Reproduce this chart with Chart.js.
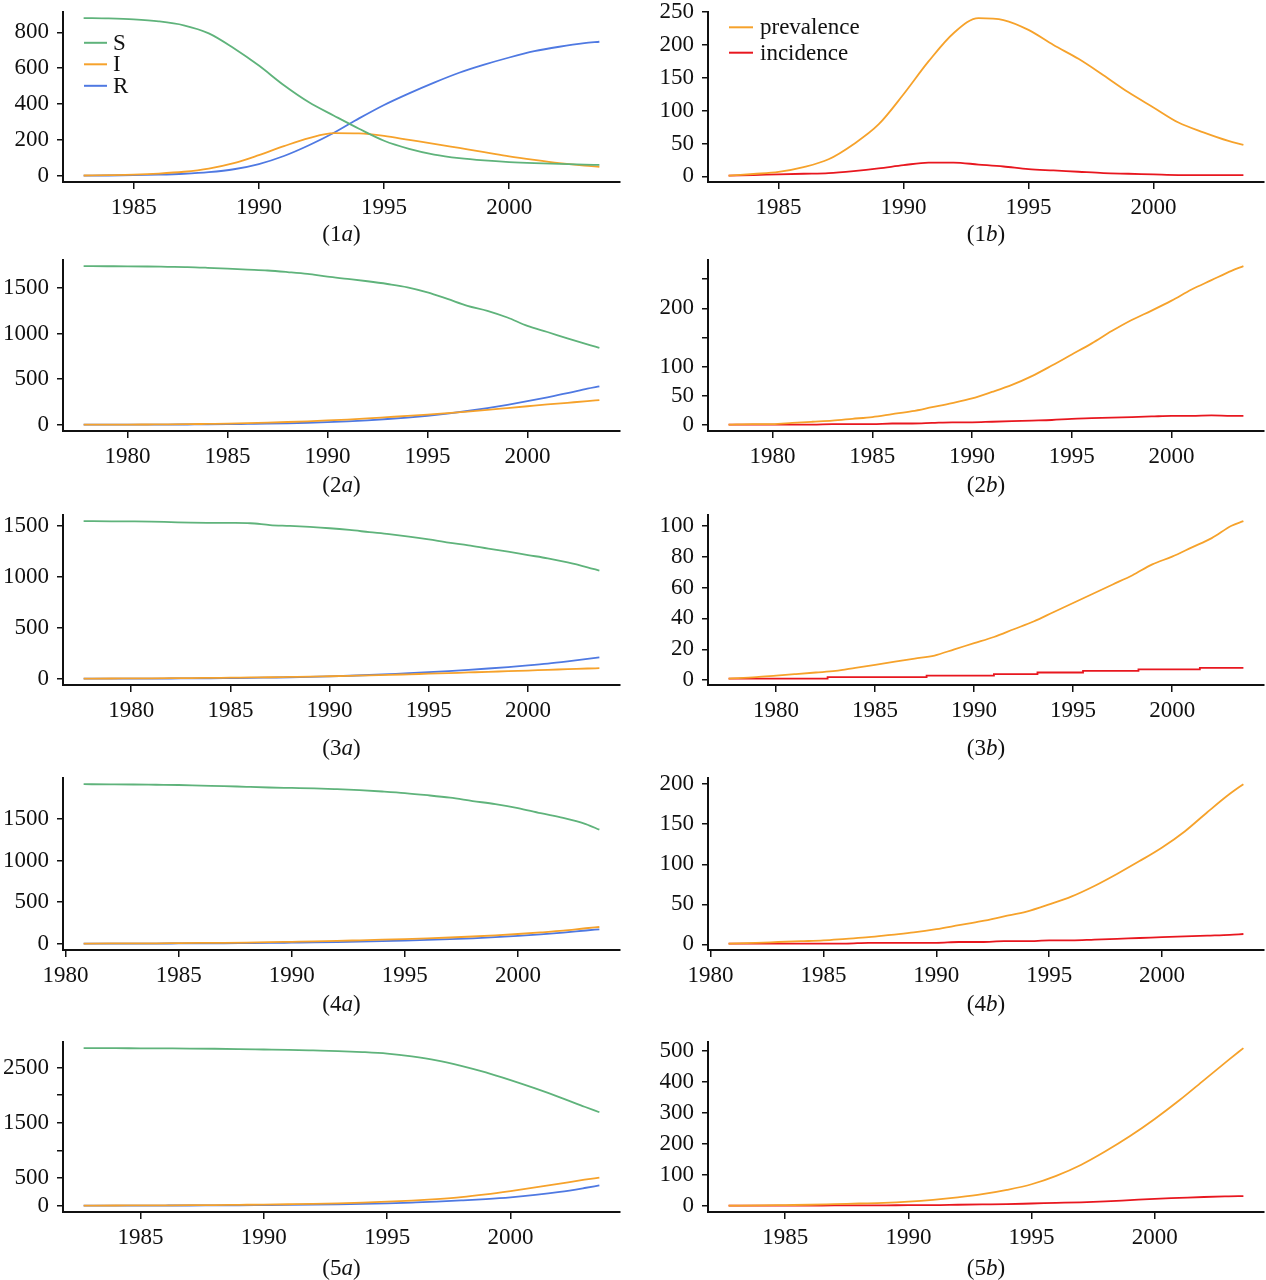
<!DOCTYPE html>
<html><head><meta charset="utf-8">
<script src="https://cdn.jsdelivr.net/npm/chart.js@4.4.0/dist/chart.umd.min.js"></script>
<style>
html,body{margin:0;padding:0;background:#fff;width:1266px;height:1280px;overflow:hidden;}
canvas{position:absolute;display:block;}
.cap{position:absolute;font-family:"Liberation Serif","Times New Roman",serif;font-size:23px;color:#111;transform:translate(-50%,-50%);white-space:nowrap;line-height:1;}
</style></head><body>
<script>
// ---------------- DATA ----------------
// Row 1
const years1 = [1983,1984,1985,1986,1987,1988,1989,1990,1991,1992,1993,1994,1995,1996,1997,1998,1999,2000,2001,2002,2003,2003.6];
const S1 = [880,878,873,862,840,795,712,615,505,410,335,262,195,150,118,98,85,76,70,66,62,60];
const I1 = [1,3,6,12,22,40,70,115,165,210,238,236,222,200,178,155,132,108,88,70,56,50];
const R1 = [0,1,3,6,11,20,36,65,110,170,240,320,395,460,520,575,620,660,695,720,740,748];
const prev1 = [1,3.6,6.7,14,26,49,79,125,175,218,241,238,223,200,179,154,128,105,82,67,54,48];
const inc1 = [1,2,3,4,5,8,12,17,21,21,18,15,11,9,7,5,4,3,2,2,2,2];
// Row 2
const years2 = [1977.8,1979,1980,1981,1982,1983,1984,1985,1986,1987,1988,1989,1990,1991,1992,1993,1994,1995,1996,1997,1998,1999,2000,2001,2002,2003,2003.6];
const S2 = [1740,1739,1738,1736,1733,1730,1722,1712,1702,1692,1675,1655,1625,1600,1574,1544,1508,1452,1380,1305,1250,1176,1084,1017,947,881,844];
const I2 = [0,1,1,2,3,5,8,11,16,22,29,37,46,56,68,82,96,111,127,144,162,182,202,222,240,258,270];
const R2 = [0,0,0,1,1,2,3,5,8,11,15,21,28,37,48,62,78,98,122,150,182,218,258,300,345,395,420];
const prev2 = [1,2,2,4,6,8,11,14,19,24,31,38,46,57,69,84,102,121,140,161,180,196,213,232,248,264,272];
const inc2 = [1,1,1,1,1,2,2,2,3,3,4,5,5,6,7,8,9,11,12,13,14,15,16,16,17,16,16];
// Row 3
const years3 = [1977.6,1979,1980,1981,1982,1983,1984,1985,1986,1987,1988,1989,1990,1991,1992,1993,1994,1995,1996,1997,1998,1999,2000,2001,2002,2003,2003.6];
const S3 = [1545,1543,1542,1540,1535,1530,1528,1527,1524,1506,1498,1488,1475,1458,1437,1417,1393,1365,1334,1308,1275,1245,1212,1180,1140,1092,1060];
const I3 = [1,2,3,4,5,6,8,10,12,14,17,20,24,28,32,37,43,49,55,61,67,74,80,87,93,100,103];
const R3 = [0,0,1,1,2,3,4,6,8,11,14,18,23,29,36,45,54,64,75,87,100,114,130,148,170,194,209];
const prev3 = [1,2,3,4,5,6,8,10,12,14,16,20,24,28,33,38,44,50,56,62,68,75,80,86,92,100,103];
const incYears3 = [1977.6,1982.6,1987.6,1991.0,1993.2,1995.5,1998.3,2001.4,2003.6];
const inc3 = [1,2,3,4,5,6,7,8,8];
// Row 4
const years4 = [1980.8,1982,1983,1984,1985,1986,1987,1988,1989,1990,1991,1992,1993,1994,1995,1996,1997,1998,1999,2000,2001,2002,2003,2003.6];
const S4 = [1920,1918,1916,1913,1910,1903,1897,1888,1880,1875,1870,1860,1848,1832,1813,1787,1757,1717,1680,1632,1570,1515,1440,1372];
const I4 = [1,2,3,4,6,8,10,13,17,22,27,33,40,47,55,64,74,86,100,116,135,156,185,200];
const R4 = [0,0,1,1,2,3,4,6,8,11,14,18,23,29,36,44,53,64,78,94,112,133,158,172];
const prev4 = [1,2,3,4,5,7,9,12,15,19,24,29,35,41,50,60,73,88,104,121,141,165,188,200];
const inc4 = [1,1,1,1,1,1,2,2,2,2,3,3,4,4,5,5,6,7,8,9,10,11,12,13];
// Row 5
const years5 = [1982.7,1984,1985,1986,1987,1988,1989,1990,1991,1992,1993,1994,1995,1996,1997,1998,1999,2000,2001,2002,2003,2003.6];
const S5 = [2850,2848,2846,2844,2842,2838,2832,2825,2818,2808,2797,2778,2750,2700,2630,2530,2410,2270,2120,1960,1790,1690];
const I5 = [2,4,5,7,9,12,16,20,26,33,43,56,72,93,120,155,205,265,330,400,470,508];
const R5 = [0,1,2,3,4,6,8,11,14,18,24,32,43,57,73,95,120,152,195,250,320,366];
const prev5 = [1,2,3,4,6,8,10,14,20,28,38,52,70,97,132,176,225,280,340,405,470,508];
const inc5 = [1,1,1,1,2,2,2,3,3,4,5,6,8,10,12,15,19,23,26,29,31,32];

// Tick values / labels
const xTicks1 = [1985,1990,1995,2000];
const xTicks2 = [1980,1985,1990,1995,2000];
const xTicks3 = [1980,1985,1990,1995,2000];
const xTicks4 = [1980,1985,1990,1995,2000];
const xTicks5 = [1985,1990,1995,2000];
const yTicks1a = [0,200,400,600,800];
const yTicks1b = [0,50,100,150,200,250];
const yTicks2a = [0,500,1000,1500];
const yTicks2b = [0,50,100,150,200,250];
const yLabels2b = ['0','50','100','','200',''];
const yTicks3a = [0,500,1000,1500];
const yTicks3b = [0,20,40,60,80,100];
const yTicks4a = [0,500,1000,1500];
const yTicks4b = [0,50,100,150,200];
const yTicks5a = [0,500,1000,1500,2000,2500];
const yLabels5a = ['0','500','','1500','','2500'];
const yTicks5b = [0,100,200,300,400,500];

// ---------------- STYLE / LAYOUT ----------------
const COL = {S:'#5fb37b', I:'#f6a22b', R:'#4f79e2', prev:'#f6a22b', inc:'#e8171f'};
const FONT = '"Liberation Serif","Times New Roman",serif';
const TICK_SIZE = 23;
const ROWS = [
  {top:12, bottom:181.7, cap:233},
  {top:259.3, bottom:430, cap:483.5},
  {top:515, bottom:685, cap:746.7},
  {top:777.5, bottom:949.3, cap:1003},
  {top:1041.5, bottom:1211.7, cap:1266.7}
];
const COLS = [
  {left:0, width:633, padRight:13},
  {left:645, width:621, padRight:2}
];
const PAD_TOP = 4, Y_W = 63, X_H = 45;

const insetLegend = {
  id:'insetLegend',
  afterDatasetsDraw(chart, args, o){
    if(!o || !o.show) return;
    const {ctx, chartArea} = chart;
    ctx.save();
    ctx.font = '23px ' + FONT;
    ctx.textBaseline = 'middle';
    ctx.textAlign = 'left';
    chart.data.datasets.forEach((ds,i)=>{
      const y = chartArea.top + o.top + i*o.rowH;
      const x0 = chartArea.left + o.left;
      ctx.strokeStyle = ds.borderColor; ctx.lineWidth = 2;
      ctx.beginPath(); ctx.moveTo(x0,y); ctx.lineTo(x0+o.lineLen,y); ctx.stroke();
      ctx.fillStyle = '#111';
      ctx.fillText(ds.label, x0+o.lineLen+o.gap, y+1);
    });
    ctx.restore();
  }
};

function series(label, xs, ys, color, extra){
  return Object.assign({label, data: xs.map((x,i)=>({x, y: ys[i]})), borderColor: color, backgroundColor: color,
    borderWidth: 1.8, pointRadius: 0, fill: false, tension: 0, cubicInterpolationMode: 'monotone'}, extra||{});
}

const PANELS = [
  {row:0,col:0,cap:['1','a'], xt:xTicks1, yt:yTicks1a, ds:()=>[series('S',years1,S1,COL.S),series('I',years1,I1,COL.I),series('R',years1,R1,COL.R)],
   legend:{show:true,left:21,top:31,rowH:21.5,lineLen:23,gap:6}},
  {row:0,col:1,cap:['1','b'], xt:xTicks1, yt:yTicks1b, ds:()=>[series('prevalence',years1,prev1,COL.prev),series('incidence',years1,inc1,COL.inc)],
   legend:{show:true,left:21,top:15.5,rowH:25.4,lineLen:24,gap:7}},
  {row:1,col:0,cap:['2','a'], xt:xTicks2, yt:yTicks2a, ds:()=>[series('S',years2,S2,COL.S),series('I',years2,I2,COL.I),series('R',years2,R2,COL.R)]},
  {row:1,col:1,cap:['2','b'], xt:xTicks2, yt:yTicks2b, yl:yLabels2b, ds:()=>[series('prevalence',years2,prev2,COL.prev),series('incidence',years2,inc2,COL.inc)]},
  {row:2,col:0,cap:['3','a'], xt:xTicks3, yt:yTicks3a, ds:()=>[series('S',years3,S3,COL.S),series('I',years3,I3,COL.I),series('R',years3,R3,COL.R)]},
  {row:2,col:1,cap:['3','b'], xt:xTicks3, yt:yTicks3b, ds:()=>[series('prevalence',years3,prev3,COL.prev),series('incidence',incYears3,inc3,COL.inc,{stepped:true})]},
  {row:3,col:0,cap:['4','a'], xt:xTicks4, yt:yTicks4a, ds:()=>[series('S',years4,S4,COL.S),series('I',years4,I4,COL.I),series('R',years4,R4,COL.R)]},
  {row:3,col:1,cap:['4','b'], xt:xTicks4, yt:yTicks4b, ds:()=>[series('prevalence',years4,prev4,COL.prev),series('incidence',years4,inc4,COL.inc)]},
  {row:4,col:0,cap:['5','a'], xt:xTicks5, yt:yTicks5a, yl:yLabels5a, ds:()=>[series('S',years5,S5,COL.S),series('I',years5,I5,COL.I),series('R',years5,R5,COL.R)]},
  {row:4,col:1,cap:['5','b'], xt:xTicks5, yt:yTicks5b, ds:()=>[series('prevalence',years5,prev5,COL.prev),series('incidence',years5,inc5,COL.inc)]}
];

function padRange(vals){
  const mn = Math.min(...vals), mx = Math.max(...vals), p = (mx-mn)*0.04;
  return [mn-p, mx+p];
}

function makeChart(P, c, height){
  const cv = document.createElement('canvas');
  cv.width = c.width; cv.height = height;
  cv.style.left = c.left+'px';
  cv.style.width = c.width+'px'; cv.style.height = height+'px';
  document.body.appendChild(cv);
  const datasets = P.ds();
  const allX = [], allY = [];
  datasets.forEach(d=>d.data.forEach(p=>{allX.push(p.x); allY.push(p.y);}));
  const [xmin,xmax] = padRange(allX), [ymin,ymax] = padRange(allY);
  const ylab = P.yl || P.yt.map(String);
  const chart = new Chart(cv, {
    type:'line',
    data:{datasets},
    plugins:[insetLegend],
    options:{
      responsive:false, maintainAspectRatio:false, animation:false, devicePixelRatio:1,
      layout:{padding:{top:PAD_TOP, right:c.padRight, bottom:0, left:0}},
      plugins:{legend:{display:false}, tooltip:{enabled:false}, insetLegend:P.legend||{show:false}},
      scales:{
        x:{type:'linear', min:xmin, max:xmax,
          afterBuildTicks:s=>{s.ticks = P.xt.map(v=>({value:v}));},
          afterFit:s=>{s.height = X_H;},
          ticks:{autoSkip:false, maxRotation:0, padding:5, color:'#111', font:{family:FONT,size:TICK_SIZE}, callback:v=>String(v)},
          grid:{display:true, drawOnChartArea:false, drawTicks:true, tickLength:7, color:'#111', lineWidth:1.5},
          border:{display:true, color:'#111', width:2}},
        y:{type:'linear', min:ymin, max:ymax,
          afterBuildTicks:s=>{s.ticks = P.yt.map(v=>({value:v}));},
          afterFit:s=>{s.width = Y_W;},
          ticks:{autoSkip:false, padding:8, color:'#111', font:{family:FONT,size:TICK_SIZE}, callback:(v,i)=>ylab[i]},
          grid:{display:true, drawOnChartArea:false, drawTicks:true, tickLength:6, color:'#111', lineWidth:1.5},
          border:{display:true, color:'#111', width:2}}
      }
    }
  });
  return {cv, chart};
}

PANELS.forEach(P=>{
  const r = ROWS[P.row], c = COLS[P.col];
  const plotH = r.bottom - r.top;
  // first pass: measure where the plot area starts inside the canvas
  let m = makeChart(P, c, Math.round(plotH + 60 + X_H));
  const t0 = m.chart.chartArea.top;
  m.chart.destroy(); m.cv.remove();
  // second pass: exact height so the plot area matches the reference
  const h = Math.round(t0 + plotH + X_H);
  m = makeChart(P, c, h);
  const t1 = m.chart.chartArea.top;
  m.cv.style.top = (r.top - t1)+'px';

  const cap = document.createElement('div');
  cap.className = 'cap';
  cap.style.left = (c.left + Y_W + (c.width - c.padRight - Y_W)/2)+'px';
  cap.style.top = r.cap+'px';
  cap.innerHTML = '('+P.cap[0]+'<i>'+P.cap[1]+'</i>)';
  document.body.appendChild(cap);
});
</script>
</body></html>
